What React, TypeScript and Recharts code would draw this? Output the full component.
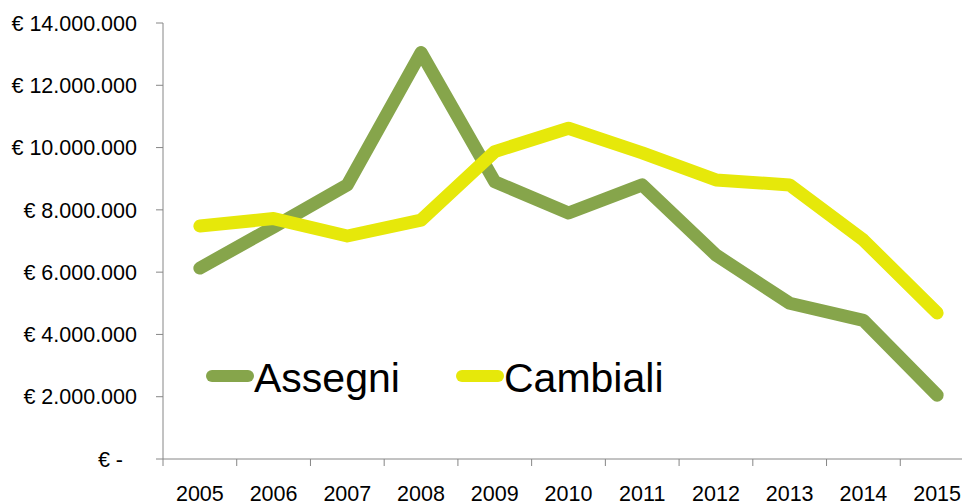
import { LineChart, Line, XAxis, YAxis, Legend } from 'recharts';

const years = ['2005', '2006', '2007', '2008', '2009', '2010', '2011', '2012', '2013', '2014', '2015'];
const assegni = [6130000, 7450000, 8800000, 13050000, 8900000, 7900000, 8800000, 6550000, 5000000, 4450000, 2050000];
const cambiali = [7480000, 7720000, 7160000, 7670000, 9870000, 10620000, 9830000, 8960000, 8800000, 7030000, 4690000];
const yTicks = [0, 2000000, 4000000, 6000000, 8000000, 10000000, 12000000, 14000000];
const seriesNames = ['Assegni', 'Cambiali'];
const seriesColors = ['#86a54b', '#e6e80a'];

const data = years.map((y, i) => ({ year: y, assegni: assegni[i], cambiali: cambiali[i] }));

const CHART_W = 990;
const CHART_H = 502;
const Y_W = 163;
const MARGIN = { top: 23, right: 16, bottom: 0, left: 0 };
const PLOT_W = CHART_W - MARGIN.left - MARGIN.right - Y_W;
const BAND = PLOT_W / years.length;
const FONT = '"Liberation Sans", Arial, sans-serif';
const AXIS = '#868686';

const euro = (v: number) => {
  if (v === 0) return '€ -';
  return '€ ' + String(v).replace(/\B(?=(\d{3})+(?!\d))/g, '.');
};

const YTick = (props: any) => {
  const { x, y, payload } = props;
  const zero = payload.value === 0;
  return (
    <text x={zero ? x - 14 : x} y={y + 7.7} textAnchor="end" fontSize={21.5} fill="#000" fontFamily={FONT}>
      {euro(payload.value)}
    </text>
  );
};

// tick marks sit between categories, like the original spreadsheet chart
const XTick = (props: any) => {
  const { x, y, payload, index } = props;
  const last = index === years.length - 1;
  return (
    <g>
      <line x1={x - BAND / 2} x2={x - BAND / 2} y1={y} y2={y + 7} stroke={AXIS} />
      {last && <line x1={x + BAND / 2} x2={x + BAND / 2} y1={y} y2={y + 7} stroke={AXIS} />}
      <text x={x} y={y + 42} textAnchor="middle" fontSize={21.5} fill="#000" fontFamily={FONT}>
        {payload.value}
      </text>
    </g>
  );
};

const renderLegend = () => (
  <svg width={520} height={70}>
    {seriesNames.map((name, i) => (
      <g key={name} transform={`translate(${i * 250},0)`}>
        <line x1={6} x2={42} y1={36} y2={36} stroke={seriesColors[i]} strokeWidth={12} strokeLinecap="round" />
        <text x={48} y={52} fontSize={41} fill="#000" fontFamily={FONT}>
          {name}
        </text>
      </g>
    ))}
  </svg>
);

export default function App() {
  return (
    <div style={{ position: 'absolute', left: 0, top: 0, width: 962, height: 502, overflow: 'hidden', background: '#fff' }}>
      <LineChart width={CHART_W} height={CHART_H} data={data} margin={MARGIN} style={{ fontFamily: FONT }}>
        <XAxis
          dataKey="year"
          height={43}
          padding={{ left: BAND / 2, right: BAND / 2 }}
          axisLine={{ stroke: AXIS }}
          tickLine={false}
          tickSize={0}
          tickMargin={0}
          tick={<XTick />}
          interval={0}
        />
        <YAxis
          width={Y_W}
          domain={[0, 14000000]}
          ticks={yTicks}
          axisLine={{ stroke: AXIS }}
          tickLine={{ stroke: AXIS }}
          tickSize={7}
          tickMargin={19}
          tick={<YTick />}
          interval={0}
        />
        <Legend
          layout="horizontal"
          align="center"
          verticalAlign="middle"
          content={renderLegend}
          wrapperStyle={{ left: 206, top: 340, width: 520, height: 70 }}
        />
        <Line
          type="linear"
          dataKey="assegni"
          name={seriesNames[0]}
          stroke={seriesColors[0]}
          strokeWidth={13}
          strokeLinejoin="round"
          strokeLinecap="round"
          dot={false}
          activeDot={false}
          isAnimationActive={false}
        />
        <Line
          type="linear"
          dataKey="cambiali"
          name={seriesNames[1]}
          stroke={seriesColors[1]}
          strokeWidth={13}
          strokeLinejoin="round"
          strokeLinecap="round"
          dot={false}
          activeDot={false}
          isAnimationActive={false}
        />
      </LineChart>
    </div>
  );
}
